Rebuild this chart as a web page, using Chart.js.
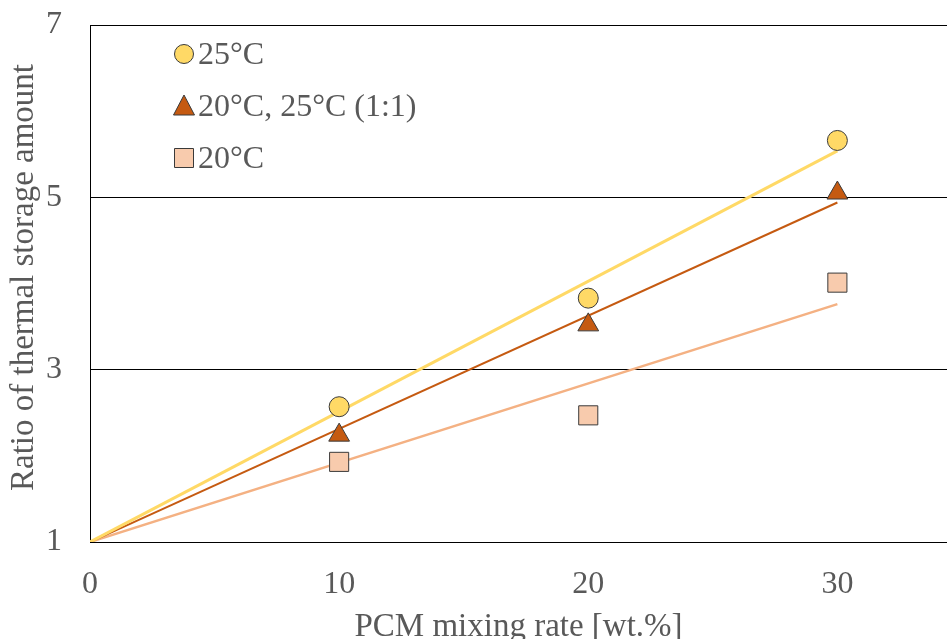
<!DOCTYPE html>
<html>
<head>
<meta charset="utf-8">
<script src="https://cdn.jsdelivr.net/npm/chart.js@4/dist/chart.umd.min.js"></script>
<style>
  html, body { margin: 0; padding: 0; background: #fff; overflow: hidden; }
  #wrap { width: 947px; height: 639px; }
  canvas { display: block; }
</style>
</head>
<body>
<div id="wrap"><canvas id="chart"></canvas></div>
<script>
// Data
const mixingRates = [10, 20, 30];
const ratio25 = [2.57, 3.83, 5.66];
const ratioMix = [2.24, 3.52, 5.05];
const ratio20 = [1.93, 2.47, 4.01];

// trend lines: value at 0 wt.% and at 30 wt.%
const trendX = [0, 30];
const trend25 = [1, 5.54];
const trendMix = [1, 4.94];
const trend20 = [1, 3.76];

const seriesLabels = ['25\u00B0C', '20\u00B0C, 25\u00B0C (1:1)', '20\u00B0C'];
const xTicks = [0, 10, 20, 30];
const yTicks = [1, 3, 5, 7];
const X_MAX = 34.4;
const xTitle = 'PCM mixing rate [wt.%]';
const yTitle = 'Ratio of thermal storage amount';

const TEXT_GRAY = '#595959';
const FONT = '"Liberation Serif", "Times New Roman", serif';
const FONT_SIZE = 32;
const TITLE_SIZE = 33;

const COLORS = {
    yellow: '#FFD966',
    orange: '#C55A11',
    peach: '#F8CBAD',
    peachLine: '#F4B183',
    edge: '#3a3a3a'
};

function toPoints(xs, ys) {
    return xs.map((x, i) => ({ x: x, y: ys[i] }));
}

// Legend drawn inside the plot area, like the original
const innerLegend = {
    id: 'innerLegend',
    afterDraw(chart) {
        const ctx = chart.ctx;
        const area = chart.chartArea;
        const items = [
            { label: seriesLabels[0], shape: 'circle', fill: COLORS.yellow },
            { label: seriesLabels[1], shape: 'triangle', fill: COLORS.orange },
            { label: seriesLabels[2], shape: 'square', fill: COLORS.peach }
        ];
        ctx.save();
        items.forEach((item, i) => {
            const cx = area.left + 94;
            const cy = area.top + 29 + i * 52;
            ctx.beginPath();
            if (item.shape === 'circle') {
                ctx.arc(cx, cy, 9.5, 0, Math.PI * 2);
            } else if (item.shape === 'triangle') {
                ctx.moveTo(cx, cy - 11);
                ctx.lineTo(cx + 10.5, cy + 9);
                ctx.lineTo(cx - 10.5, cy + 9);
                ctx.closePath();
            } else {
                ctx.rect(cx - 9.5, cy - 9.5, 19, 19);
            }
            ctx.fillStyle = item.fill;
            ctx.fill();
            ctx.lineWidth = 1;
            ctx.strokeStyle = COLORS.edge;
            ctx.stroke();

            ctx.fillStyle = TEXT_GRAY;
            ctx.font = FONT_SIZE + 'px ' + FONT;
            ctx.textAlign = 'left';
            ctx.textBaseline = 'middle';
            ctx.fillText(item.label, cx + 14, cy + 2);
        });

        // y axis title, a little above the centre of the plot like the original
        ctx.translate(33, area.top + (area.bottom - area.top) / 2 - 6);
        ctx.rotate(-Math.PI / 2);
        ctx.font = TITLE_SIZE + 'px ' + FONT;
        ctx.textAlign = 'center';
        ctx.textBaseline = 'alphabetic';
        ctx.fillText(yTitle, 0, 0);
        ctx.restore();
    }
};

const ctx = document.getElementById('chart').getContext('2d');
new Chart(ctx, {
    type: 'scatter',
    data: {
        datasets: [
            {
                label: seriesLabels[0],
                data: toPoints(mixingRates, ratio25),
                pointStyle: 'circle',
                pointRadius: 10,
                backgroundColor: COLORS.yellow,
                borderColor: COLORS.edge,
                borderWidth: 1,
                order: 0
            },
            {
                label: seriesLabels[1],
                data: toPoints(mixingRates, ratioMix),
                pointStyle: 'triangle',
                pointRadius: 12,
                backgroundColor: COLORS.orange,
                borderColor: COLORS.edge,
                borderWidth: 1,
                order: 0
            },
            {
                label: seriesLabels[2],
                data: toPoints(mixingRates, ratio20),
                pointStyle: 'rect',
                pointRadius: 13.5,
                backgroundColor: COLORS.peach,
                borderColor: COLORS.edge,
                borderWidth: 1,
                order: 0
            },
            {
                type: 'line',
                label: 'trend 25',
                data: toPoints(trendX, trend25),
                borderColor: COLORS.yellow,
                borderWidth: 3,
                pointRadius: 0,
                fill: false,
                order: 1
            },
            {
                type: 'line',
                label: 'trend mix',
                data: toPoints(trendX, trendMix),
                borderColor: COLORS.orange,
                borderWidth: 2,
                pointRadius: 0,
                fill: false,
                order: 1
            },
            {
                type: 'line',
                label: 'trend 20',
                data: toPoints(trendX, trend20),
                borderColor: COLORS.peachLine,
                borderWidth: 2.5,
                pointRadius: 0,
                fill: false,
                order: 1
            }
        ]
    },
    options: {
        responsive: true,
        maintainAspectRatio: false,
        animation: false,
        layout: {
            autoPadding: false,
            padding: { top: 25, right: 0, left: 0, bottom: 0 }
        },
        plugins: {
            legend: { display: false },
            tooltip: { enabled: false }
        },
        scales: {
            x: {
                type: 'linear',
                min: 0,
                max: X_MAX,
                afterBuildTicks: (scale) => {
                    scale.ticks = xTicks.map(v => ({ value: v }));
                },
                afterFit: (scale) => {
                    scale.height = 97;
                    scale.paddingLeft = 0;
                    scale.paddingRight = 0;
                },
                grid: { display: false, drawTicks: false },
                border: { display: true, color: '#000', width: 1 },
                ticks: {
                    color: TEXT_GRAY,
                    font: { family: FONT, size: FONT_SIZE },
                    padding: 23,
                    maxRotation: 0
                },
                title: {
                    display: true,
                    text: xTitle,
                    color: TEXT_GRAY,
                    font: { family: FONT, size: TITLE_SIZE },
                    padding: { top: 0, bottom: -8 }
                }
            },
            y: {
                type: 'linear',
                min: 1,
                max: 7,
                afterBuildTicks: (scale) => {
                    scale.ticks = yTicks.map(v => ({ value: v }));
                },
                afterFit: (scale) => {
                    scale.width = 90;
                    scale.paddingTop = 0;
                    scale.paddingBottom = 0;
                },
                grid: { color: '#000', lineWidth: 1, drawTicks: false },
                border: { display: true, color: '#000', width: 1 },
                ticks: {
                    color: TEXT_GRAY,
                    font: { family: FONT, size: FONT_SIZE },
                    padding: 28
                },
                title: { display: false }
            }
        }
    },
    plugins: [innerLegend]
});
</script>
</body>
</html>
